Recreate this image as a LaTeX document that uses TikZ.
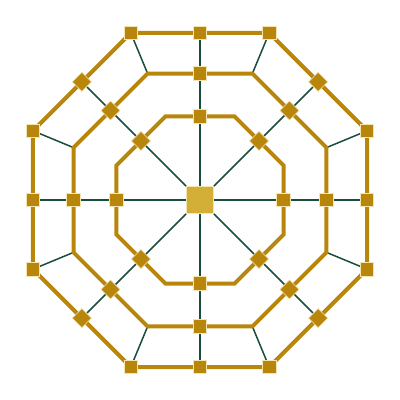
\documentclass[tikz,border=0pt]{standalone}
\usetikzlibrary{backgrounds}
\definecolor{gold}{HTML}{B8860B}
\definecolor{paleGold}{HTML}{D4AF37}
\definecolor{rim}{HTML}{F3E4B4}
\definecolor{pine}{HTML}{1B4D3E}
\tikzset{
  sq/.style={rectangle, fill=gold, draw=rim, line width=0.6pt, minimum size=13.5pt, inner sep=0pt},
  dia/.style={sq, rotate=45},
  hub/.style={sq, fill=paleGold, minimum size=27pt},
  ring/.style={draw=gold, line width=4pt, line join=miter},
  spoke/.style={draw=pine, line width=1.5pt},
}
\begin{document}
\begin{tikzpicture}[x=1pt,y=1pt]
  \useasboundingbox (-200,-200) rectangle (200,200);
  % centre
  \node[hub] (hub) at (0,0) {};
  % corners: outer nodes, middle and inner bends
  \foreach \k in {0,...,7} {
    \node[sq] (o\k) at ({22.5+45*\k}:180.8) {};
    \coordinate (m\k) at ({22.5+45*\k}:136.9);
    \coordinate (i\k) at ({22.5+45*\k}:90.4);
  }
  % side midpoints of the three rings
  \foreach \k/\s in {0/sq,1/dia,2/sq,3/dia,4/sq,5/dia,6/sq,7/dia} {
    \node[\s] (om\k) at (45*\k:167) {};
    \node[\s] (mm\k) at (45*\k:126.5) {};
    \node[\s] (im\k) at (45*\k:83.5) {};
  }
  \begin{scope}[on background layer]
    \foreach \k in {0,...,7} {
      \draw[spoke] (hub) -- (om\k);
      \draw[spoke] (m\k) -- (o\k);
    }
    \draw[ring] (o0.center) -- (o1.center) -- (o2.center) -- (o3.center) -- (o4.center) -- (o5.center) -- (o6.center) -- (o7.center) -- cycle;
    \draw[ring] (m0) -- (m1) -- (m2) -- (m3) -- (m4) -- (m5) -- (m6) -- (m7) -- cycle;
    \draw[ring] (i0) -- (i1) -- (i2) -- (i3) -- (i4) -- (i5) -- (i6) -- (i7) -- cycle;
  \end{scope}
\end{tikzpicture}
\end{document}
